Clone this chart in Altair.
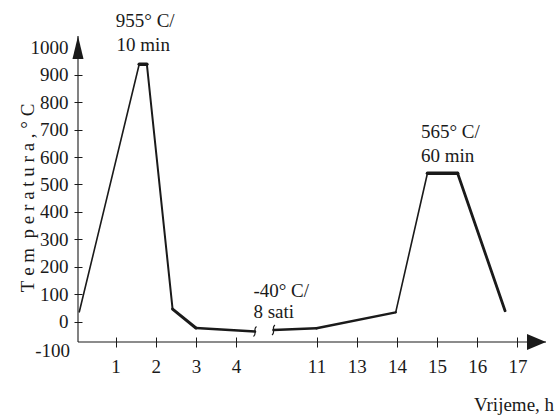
import altair as alt
import pandas as pd

# ---- data (position on the broken time axis, temperature in °C)
seg1_x = [0.10, 1.59, 1.78, 2.42, 3.00, 4.47]
seg1_t = [36, 938, 938, 46, -23, -36]
seg1_w = [1.6, 3.5, 2.0, 3.0, 2.5]
seg2_x = [4.93, 6.00, 7.97, 8.76, 9.51, 10.69]
seg2_t = [-30, -24, 34, 541, 541, 40]
seg2_w = [2.5, 2.5, 1.6, 3.5, 2.8]

tick_pos = [1, 2, 3, 4, 6, 7, 8, 9, 10, 11]
tick_labels = ["1", "2", "3", "4", "11", "13", "14", "15", "16", "17"]
y_ticks = [0, 100, 200, 300, 400, 500, 600, 700, 800, 900, 1000]
y_low_label = [-100]

ann_c_text = ["955° C/", "10 min"]
ann_c_x = [1.74, 1.69]
ann_c_t = [1096, 1008]
ann_l_text = ["565° C/", "60 min", "-40° C/", "8 sati"]
ann_l_x = [8.60, 8.60, 4.43, 4.43]
ann_l_t = [692, 604, 112, 36]

x_lo, x_hi = 0.067, 11.709
y_lo, y_hi = -74, 1041

FONT = "Liberation Serif"
FS = 19
INK = "#1a1a1a"

# ---- tables
rows = []
for xs_, ts_, ws_ in [(seg1_x, seg1_t, seg1_w), (seg2_x, seg2_t, seg2_w)]:
    for i in range(len(ws_)):
        rows.append({"x": xs_[i], "t": ts_[i], "x2": xs_[i + 1], "t2": ts_[i + 1], "w": ws_[i]})
segs = pd.DataFrame(rows)

xs = alt.Scale(domain=[x_lo, x_hi], nice=False, zero=False)
ys = alt.Scale(domain=[y_lo, y_hi], nice=False, zero=False)

lab_arr = "[" + ",".join("'%s'" % s for s in tick_labels) + "]"
pos_arr = "[" + ",".join(str(p) for p in tick_pos) + "]"

x_axis = alt.Axis(values=tick_pos, labelExpr=f"{lab_arr}[indexof({pos_arr}, datum.value)]",
                  domain=False, grid=False, tickSize=10, offset=-5, labelPadding=10,
                  labelFont=FONT, labelFontSize=FS, labelColor=INK, tickColor=INK,
                  labelFlush=False, labelOverlap=False, title=None)
y_axis = alt.Axis(values=y_ticks, format="d", domain=False, grid=False, tickSize=8, offset=-4, labelPadding=6,
                  labelFont=FONT, labelFontSize=FS, labelColor=INK, tickColor=INK,
                  tickOpacity={"condition": {"test": "datum.value > 950", "value": 0}, "value": 1},
                  labelFlush=False, labelOverlap=False, title=None)


def X(f="x"):
    return alt.X(f"{f}:Q", scale=xs, axis=x_axis)


def Y(f="t"):
    return alt.Y(f"{f}:Q", scale=ys, axis=y_axis)


profile = alt.Chart(segs).mark_rule(color=INK, strokeCap="round").encode(
    x=X(), y=Y(), x2="x2:Q", y2="t2:Q",
    strokeWidth=alt.StrokeWidth("w:Q", scale=None),
)

axis_df = pd.DataFrame({"x": [x_lo, x_lo], "t": [y_lo, y_lo], "x2": [x_hi, x_lo], "t2": [y_lo, y_hi]})
axes_lines = alt.Chart(axis_df).mark_rule(color=INK, strokeWidth=1.1).encode(
    x=X(), y=Y(), x2="x2:Q", y2="t2:Q")

up_arrow = alt.Chart(pd.DataFrame({"x": [x_lo], "t": [y_hi]})).mark_point(
    shape="M0,0 L0.48,2 L-0.48,2 Z", size=529, filled=True, color=INK, opacity=1, strokeWidth=0).encode(
    x=X(), y=Y())
right_arrow = alt.Chart(pd.DataFrame({"x": [x_hi], "t": [y_lo]})).mark_point(
    shape="M0,0 L-2,-0.85 L-2,0.85 Z", size=361, filled=True, color=INK, opacity=1, strokeWidth=0).encode(
    x=X(), y=Y())

brk = pd.DataFrame({"x": [seg1_x[-1], seg2_x[0]], "t": [seg1_t[-1], seg2_t[0]]})
breaks = alt.Chart(brk).mark_point(
    shape="M0.3,-1 C-0.5,-0.5 0.5,0.4 -0.3,1", size=100, filled=False, color=INK, opacity=1, strokeWidth=1.2).encode(
    x=X(), y=Y())

low_lab = alt.Chart(pd.DataFrame({"x": [x_lo], "t": y_low_label, "s": [str(v) for v in y_low_label]})).mark_text(
    font=FONT, fontSize=FS, color=INK, align="right", baseline="middle", dx=-8, dy=2).encode(
    x=X(), y=alt.Y("t:Q", scale=alt.Scale(domain=[y_lo, y_hi], nice=False, zero=False, clamp=False), axis=y_axis),
    text="s:N")

ann_c = alt.Chart(pd.DataFrame({"x": ann_c_x, "t": ann_c_t, "s": ann_c_text})).mark_text(
    font=FONT, fontSize=FS, color=INK, align="center", baseline="middle").encode(
    x=X(), y=Y(), text="s:N")
ann_l = alt.Chart(pd.DataFrame({"x": ann_l_x, "t": ann_l_t, "s": ann_l_text})).mark_text(
    font=FONT, fontSize=FS, color=INK, align="left", baseline="middle").encode(
    x=X(), y=Y(), text="s:N")

nb = "\u00a0"
ytitle_text = nb.join(list("Tem")) + nb + nb + nb.join(list("peratura,°C"))
ytitle = alt.Chart(pd.DataFrame({"x": [-1.03], "t": [451], "s": [ytitle_text]})).mark_text(
    font=FONT, fontSize=FS, color=INK, align="center", baseline="alphabetic", angle=270).encode(
    x=X(), y=Y(), text="s:N")
xtitle = alt.Chart(pd.DataFrame({"x": [11.91], "t": [-304], "s": ["Vrijeme, h"]})).mark_text(
    font=FONT, fontSize=FS, color=INK, align="right", baseline="middle").encode(
    x=X(), y=Y(), text="s:N")

chart = alt.layer(profile, axes_lines, up_arrow, right_arrow, breaks, low_lab, ann_c, ann_l, ytitle, xtitle).properties(
    width=468, height=306,
    padding={"left": 78, "top": 36, "right": 9, "bottom": 74},
    autosize=alt.AutoSizeParams(type="none"),
    background="white",
).configure_view(stroke=None)

chart.save("out.html", embed_options={"renderer": "svg", "actions": False})
